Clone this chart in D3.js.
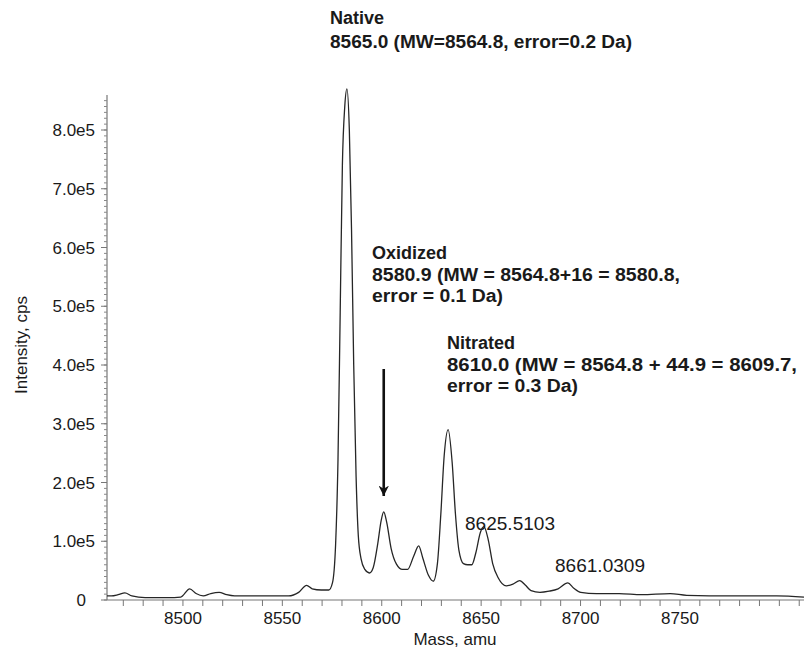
<!DOCTYPE html>
<html>
<head>
<meta charset="utf-8">
<script src="https://cdn.jsdelivr.net/npm/d3@7"></script>
<style>
  body { margin: 0; background: #fff; }
  svg text { font-family: "Liberation Sans", Arial, sans-serif; fill: #1a1a1a; }
</style>
</head>
<body>
<svg id="chart"></svg>
<script>
// spectrum trace, mass (amu) and intensity (units of 1e5 cps)
const massValues = [
  8461.8, 8464.0, 8467.4, 8470.8, 8474.3, 8481.0, 8492.4, 8498.9, 8503.4, 8506.6, 8510.2, 8514.0,
  8518.2, 8522.0, 8526.0, 8537.8, 8553.1, 8558.2, 8562.2, 8565.0, 8569.6, 8573.4, 8575.2, 8576.8,
  8578.0, 8579.1, 8580.2, 8581.4, 8582.5, 8583.7, 8584.8, 8585.9, 8587.1, 8588.2, 8589.6, 8591.5,
  8593.8, 8595.7, 8598.0, 8599.7, 8601.0, 8602.5, 8604.7, 8607.4, 8610.4, 8613.0, 8616.1, 8618.6,
  8620.6, 8623.5, 8625.9, 8628.0, 8629.7, 8631.4, 8633.4, 8635.4, 8637.1, 8638.8, 8641.1, 8643.3,
  8645.3, 8647.3, 8649.6, 8651.4, 8653.6, 8655.8, 8658.7, 8662.6, 8666.0, 8669.4, 8672.3, 8675.1,
  8679.6, 8684.2, 8688.7, 8693.6, 8696.6, 8700.1, 8708.0, 8719.4, 8730.7, 8745.1, 8753.4, 8776.1,
  8798.8, 8812.4
];
const intensityValues = [
  0.07, 0.07, 0.09, 0.12, 0.07, 0.04, 0.04, 0.05, 0.19, 0.11, 0.07, 0.11,
  0.13, 0.09, 0.07, 0.07, 0.07, 0.13, 0.25, 0.19, 0.17, 0.17, 0.29, 0.95,
  2.4, 4.9, 7.4, 8.4, 8.7, 8.0, 6.3, 4.0, 2.1, 1.1, 0.7, 0.52,
  0.46, 0.55, 0.96, 1.35, 1.5, 1.32, 0.88, 0.61, 0.52, 0.52, 0.75, 0.92,
  0.72, 0.42, 0.32, 0.62, 1.45, 2.45, 2.9, 2.35, 1.45, 0.85, 0.62, 0.6,
  0.6, 0.8, 1.15, 1.25, 1.02, 0.62, 0.37, 0.24, 0.27, 0.33, 0.25, 0.16,
  0.13, 0.15, 0.19, 0.29, 0.2, 0.13, 0.11, 0.11, 0.09, 0.11, 0.08, 0.07,
  0.07, 0.05
];

const xTickValues = [8500, 8550, 8600, 8650, 8700, 8750];
const yTickValues = [0, 1, 2, 3, 4, 5, 6, 7, 8];

const peakLabels = ["8625.5103", "8661.0309"];
const nativeLines = ["Native", "8565.0 (MW=8564.8, error=0.2 Da)"];
const oxidizedLines = ["Oxidized", "8580.9 (MW = 8564.8+16 = 8580.8,", "error = 0.1 Da)"];
const nitratedLines = ["Nitrated", "8610.0 (MW = 8564.8 + 44.9 = 8609.7,", "error = 0.3 Da)"];

// layout
const width = 804, height = 650;
const plot = {left: 107, right: 804, top: 95, bottom: 600};

const svg = d3.select('#chart')
    .attr('width', width)
    .attr('height', height);

const x = d3.scaleLinear()
    .domain([8461.8, 8812.4])
    .range([plot.left, plot.right]);

const y = d3.scaleLinear()
    .domain([0, 8])
    .range([plot.bottom, 130]);

const data = massValues.map((m, i) => ({m: m, v: intensityValues[i]}));

// minor ticks
const xMinor = d3.range(8470, 8811, 10);
const yMinor = d3.range(0, 8.51, 0.1);

// X axis
svg.append('line')
    .attr('x1', plot.left).attr('x2', plot.right)
    .attr('y1', plot.bottom).attr('y2', plot.bottom)
    .attr('stroke', '#777').attr('stroke-width', 1.2);
svg.selectAll('.xtick')
    .data(xMinor)
    .enter().append('line')
    .attr('x1', d => x(d)).attr('x2', d => x(d))
    .attr('y1', plot.bottom).attr('y2', plot.bottom + 6)
    .attr('stroke', '#777');
svg.selectAll('.xlabel')
    .data(xTickValues)
    .enter().append('text')
    .attr('x', d => x(d))
    .attr('y', 624)
    .attr('text-anchor', 'middle')
    .style('font-size', '17px')
    .text(d => d);

// Y axis
svg.append('line')
    .attr('x1', plot.left).attr('x2', plot.left)
    .attr('y1', plot.top).attr('y2', plot.bottom)
    .attr('stroke', '#777').attr('stroke-width', 1.2);
svg.selectAll('.ytick')
    .data(yMinor)
    .enter().append('line')
    .attr('x1', plot.left - 3).attr('x2', plot.left)
    .attr('y1', d => y(d)).attr('y2', d => y(d))
    .attr('stroke', '#888');
svg.selectAll('.ymajor')
    .data(yTickValues)
    .enter().append('line')
    .attr('x1', plot.left - 6).attr('x2', plot.left)
    .attr('y1', d => y(d)).attr('y2', d => y(d))
    .attr('stroke', '#777');
svg.selectAll('.ylabel')
    .data(yTickValues)
    .enter().append('text')
    .attr('x', d => d === 0 ? 86 : 95)
    .attr('y', d => y(d) + 6)
    .attr('text-anchor', 'end')
    .style('font-size', '17px')
    .text(d => d === 0 ? '0' : d.toFixed(1) + 'e5');

// axis titles
svg.append('text')
    .attr('x', 455).attr('y', 645)
    .attr('text-anchor', 'middle')
    .style('font-size', '17px')
    .text('Mass, amu');
svg.append('text')
    .attr('transform', 'translate(27,345) rotate(-90)')
    .attr('text-anchor', 'middle')
    .style('font-size', '17px')
    .text('Intensity, cps');

// spectrum line
const line = d3.line()
    .x(d => x(d.m))
    .y(d => y(d.v))
    .curve(d3.curveMonotoneX);
svg.append('path')
    .datum(data)
    .attr('d', line)
    .attr('fill', 'none')
    .attr('stroke', '#262626')
    .attr('stroke-width', 1.3);

// annotations (null width = natural)
function block(lines, x0, y0, step, widths) {
  lines.forEach(function(t, i) {
    const el = svg.append('text')
        .attr('x', x0)
        .attr('y', y0 + i * step)
        .style('font-size', '18px')
        .style('font-weight', 'bold')
        .text(t);
    if (widths[i]) {
      el.attr('textLength', widths[i]).attr('lengthAdjust', 'spacingAndGlyphs');
    }
  });
}
block(nativeLines, 330, 24, 24, [null, 302]);
block(oxidizedLines, 372, 259, 21.5, [null, 308, 131]);
block(nitratedLines, 447, 349, 21.5, [null, 350, 131]);

svg.append('text')
    .attr('x', 465).attr('y', 530)
    .attr('textLength', 90)
    .attr('lengthAdjust', 'spacingAndGlyphs')
    .style('font-size', '18px')
    .text(peakLabels[0]);
svg.append('text')
    .attr('x', 555).attr('y', 572)
    .attr('textLength', 90)
    .attr('lengthAdjust', 'spacingAndGlyphs')
    .style('font-size', '18px')
    .text(peakLabels[1]);

// arrow to the oxidized peak
svg.append('defs').append('marker')
    .attr('id', 'arrowhead')
    .attr('viewBox', '0 0 10 10')
    .attr('refX', 10).attr('refY', 5)
    .attr('markerWidth', 4).attr('markerHeight', 4)
    .attr('markerUnits', 'strokeWidth')
    .attr('orient', 'auto')
    .append('path')
    .attr('d', 'M0,0 L10,5 L0,10 L3,5 Z')
    .attr('fill', '#111');
svg.append('line')
    .attr('x1', x(8601.0)).attr('x2', x(8601.0))
    .attr('y1', 369).attr('y2', 496)
    .attr('stroke', '#111')
    .attr('stroke-width', 2.6)
    .attr('marker-end', 'url(#arrowhead)');
</script>
</body>
</html>
